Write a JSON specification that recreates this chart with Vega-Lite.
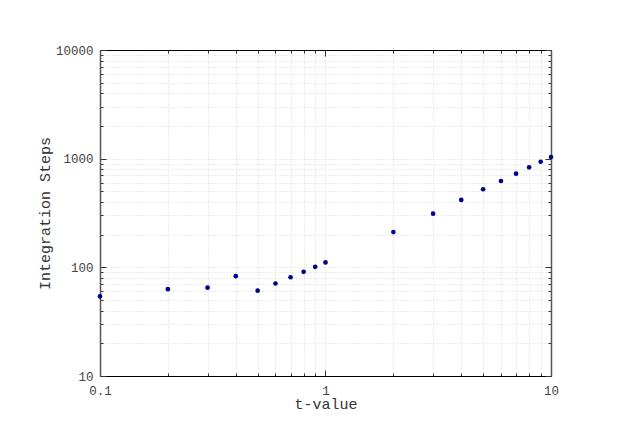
{
  "$schema": "https://vega.github.io/schema/vega-lite/v6.json",
  "autosize": {"type": "none"},
  "width": 451,
  "height": 326,
  "padding": {"left": 100, "top": 50, "right": 72, "bottom": 64},
  "background": "white",
  "config": {
    "view": {"stroke": null},
    "axis": {
      "labelFont": "Liberation Mono",
      "titleFont": "Liberation Mono",
      "labelFontSize": 12.5,
      "titleFontSize": 15,
      "labelColor": "#444444",
      "titleColor": "#333333",
      "titleFontWeight": "normal",
      "tickColor": "#333333",
      "gridColor": "#d9d9d9",
      "gridDash": [1, 2],
      "gridWidth": 1
    }
  },
  "data": {
    "values": [
      {"t": 0.1, "steps": 54},
      {"t": 0.2, "steps": 63},
      {"t": 0.3, "steps": 65},
      {"t": 0.4, "steps": 83},
      {"t": 0.5, "steps": 61},
      {"t": 0.6, "steps": 71},
      {"t": 0.7, "steps": 81},
      {"t": 0.8, "steps": 91},
      {"t": 0.9, "steps": 101},
      {"t": 1.0, "steps": 111},
      {"t": 2, "steps": 211},
      {"t": 3, "steps": 312},
      {"t": 4, "steps": 417},
      {"t": 5, "steps": 523},
      {"t": 6, "steps": 623},
      {"t": 7, "steps": 727},
      {"t": 8, "steps": 832},
      {"t": 9, "steps": 937},
      {"t": 10, "steps": 1036}
    ]
  },
  "resolve": {"axis": {"x": "independent", "y": "independent"}},
  "layer": [
    {
      "mark": {"type": "point", "opacity": 0},
      "encoding": {
        "x": {"field": "t", "type": "quantitative",
          "scale": {"type": "log", "domain": [0.1, 10], "nice": false},
          "axis": {"orient": "bottom", "title": null, "labels": false, "domain": false,
            "values": [0.1,0.2,0.3,0.4,0.5,0.6,0.7,0.8,0.9,1,2,3,4,5,6,7,8,9,10],
            "tickSize": -3, "grid": true}},
        "y": {"field": "steps", "type": "quantitative",
          "scale": {"type": "log", "domain": [10, 10000], "nice": false},
          "axis": {"orient": "left", "title": null, "labels": false, "domain": false,
            "values": [10,20,30,40,50,60,70,80,90,100,200,300,400,500,600,700,800,900,1000,2000,3000,4000,5000,6000,7000,8000,9000,10000],
            "tickSize": -3, "grid": true}}
      }
    },
    {
      "mark": {"type": "point", "opacity": 0},
      "encoding": {
        "x": {"field": "t", "type": "quantitative",
          "scale": {"type": "log", "domain": [0.1, 10], "nice": false},
          "axis": {"orient": "top", "title": null, "labels": false, "domain": true, "domainColor": "#000000",
            "values": [0.1,0.2,0.3,0.4,0.5,0.6,0.7,0.8,0.9,1,2,3,4,5,6,7,8,9,10],
            "tickSize": -3, "grid": false}},
        "y": {"field": "steps", "type": "quantitative",
          "scale": {"type": "log", "domain": [10, 10000], "nice": false},
          "axis": {"orient": "right", "title": null, "labels": false, "domain": true, "domainColor": "#555555", "domainWidth": 1.5,
            "values": [10,20,30,40,50,60,70,80,90,100,200,300,400,500,600,700,800,900,1000,2000,3000,4000,5000,6000,7000,8000,9000,10000],
            "tickSize": -3, "grid": false}}
      }
    },
    {
      "mark": {"type": "point", "opacity": 0},
      "encoding": {
        "x": {"field": "t", "type": "quantitative",
          "scale": {"type": "log", "domain": [0.1, 10], "nice": false},
          "axis": {"orient": "top", "title": null, "labels": false, "domain": false,
            "values": [0.1, 1, 10], "tickSize": -6, "grid": false}},
        "y": {"field": "steps", "type": "quantitative",
          "scale": {"type": "log", "domain": [10, 10000], "nice": false},
          "axis": {"orient": "right", "title": null, "labels": false, "domain": false,
            "values": [10, 100, 1000, 10000], "tickSize": -6, "grid": false}}
      }
    },
    {
      "mark": {"type": "circle", "size": 22, "color": "#00008b", "opacity": 1},
      "encoding": {
        "x": {"field": "t", "type": "quantitative",
          "scale": {"type": "log", "domain": [0.1, 10], "nice": false},
          "axis": {"orient": "bottom", "title": "t-value", "domain": true, "domainColor": "#000000",
            "values": [0.1, 1, 10], "format": "~g", "labelFlush": false,
            "tickSize": -6, "labelPadding": 14, "titlePadding": 0, "grid": false}},
        "y": {"field": "steps", "type": "quantitative",
          "scale": {"type": "log", "domain": [10, 10000], "nice": false},
          "axis": {"orient": "left", "title": "Integration Steps", "domain": true, "domainColor": "#555555", "domainWidth": 1.5,
            "values": [10, 100, 1000, 10000], "format": "~g", "labelFlush": false,
            "tickSize": -6, "labelPadding": 13, "titlePadding": 3, "grid": false}}
      }
    }
  ]
}
